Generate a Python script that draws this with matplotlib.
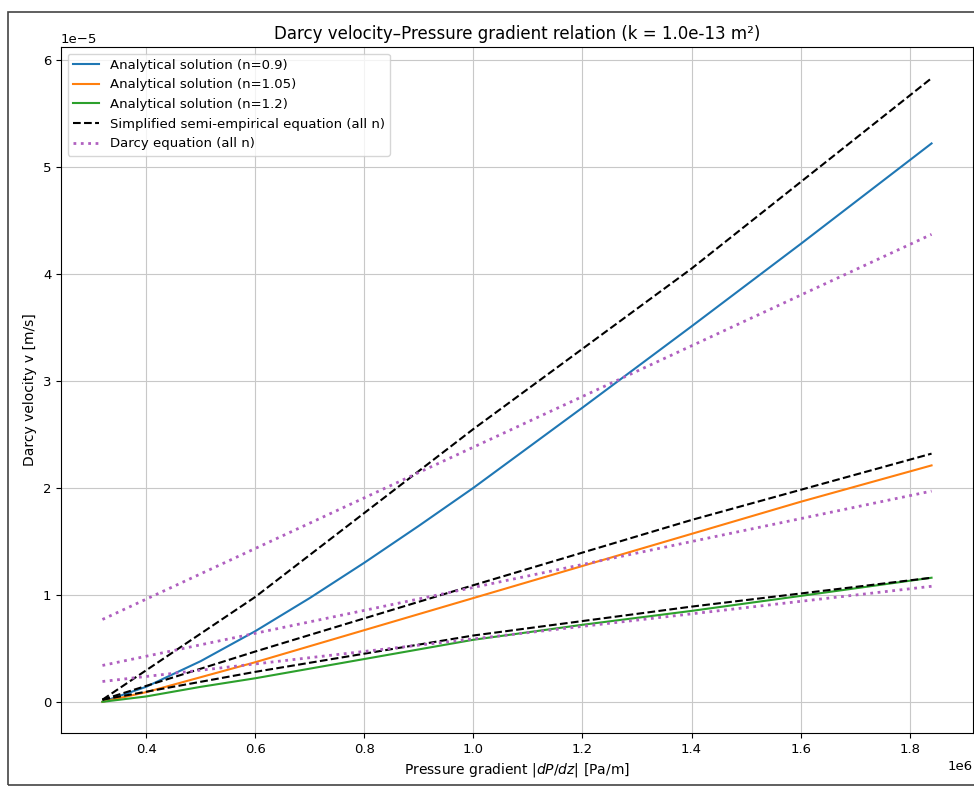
import numpy as np
import matplotlib
matplotlib.use("Agg")
import matplotlib.pyplot as plt
from matplotlib.patches import Rectangle

# pressure gradient [Pa/m], velocities in units of 1e-5 m/s
x_ana = [0.32e6, 0.4e6, 0.5e6, 0.6e6, 0.7e6, 0.8e6, 0.9e6, 1.0e6, 1.2e6, 1.4e6, 1.6e6, 1.84e6]
v_n09 = [0.0, 0.14, 0.38, 0.66, 0.97, 1.30, 1.645, 2.00, 2.75, 3.51, 4.28, 5.22]
v_n105 = [0.0, 0.09, 0.23, 0.37, 0.52, 0.67, 0.82, 0.97, 1.27, 1.57, 1.87, 2.21]
v_n12 = [0.0, 0.05, 0.14, 0.22, 0.31, 0.40, 0.49, 0.58, 0.72, 0.85, 0.99, 1.16]

x_semi = [0.32e6, 0.6e6, 1.0e6, 1.4e6, 1.84e6]
semi_n09 = [0.02, 0.98, 2.55, 4.05, 5.83]
semi_n105 = [0.02, 0.47, 1.09, 1.70, 2.32]
semi_n12 = [0.02, 0.28, 0.62, 0.89, 1.16]

x_darcy = [0.32e6, 1.84e6]
darcy_n09 = [0.77, 4.37]
darcy_n105 = [0.34, 1.97]
darcy_n12 = [0.19, 1.08]

labels = ["Analytical solution (n=0.9)", "Analytical solution (n=1.05)",
          "Analytical solution (n=1.2)"]
colors = ["tab:blue", "tab:orange", "tab:green"]

plt.rcParams['font.size'] = 10
plt.rcParams['xtick.labelsize'] = 9.5
plt.rcParams['ytick.labelsize'] = 9.5
fig = plt.figure(figsize=(9.74, 7.87), dpi=100)
ax = fig.add_axes([61 / 974, 1 - 733 / 787, (973 - 61) / 974, (733 - 47) / 787])

sc = 1e-5
for v, lab, c in zip([v_n09, v_n105, v_n12], labels, colors):
    ax.plot(x_ana, np.array(v) * sc, color=c, lw=1.5, label=lab)

for i, v in enumerate([semi_n09, semi_n105, semi_n12]):
    ax.plot(x_semi, np.array(v) * sc, 'k--', lw=1.5,
            label="Simplified semi-empirical equation (all n)" if i == 0 else None)

for i, v in enumerate([darcy_n09, darcy_n105, darcy_n12]):
    ax.plot(x_darcy, np.array(v) * sc, ':', color='#b060c0', lw=2,
            label="Darcy equation (all n)" if i == 0 else None)

ax.set_title("Darcy velocity\u2013Pressure gradient relation (k = 1.0e-13 m\u00b2)", fontsize=12)
ax.set_xlabel("Pressure gradient |$dP/dz$| [Pa/m]")
ax.set_ylabel("Darcy velocity v [m/s]")
ax.grid(True, color='#c8c8c8')
ax.legend(loc='upper left', fontsize=9.5)

# screenshot frame
fig.patches.append(Rectangle((8 / 974, 2 / 787), 1.0, 1 - 14 / 787, transform=fig.transFigure,
                             fill=False, edgecolor='#444444', lw=1.2))

fig.savefig("out.png", dpi=100)
